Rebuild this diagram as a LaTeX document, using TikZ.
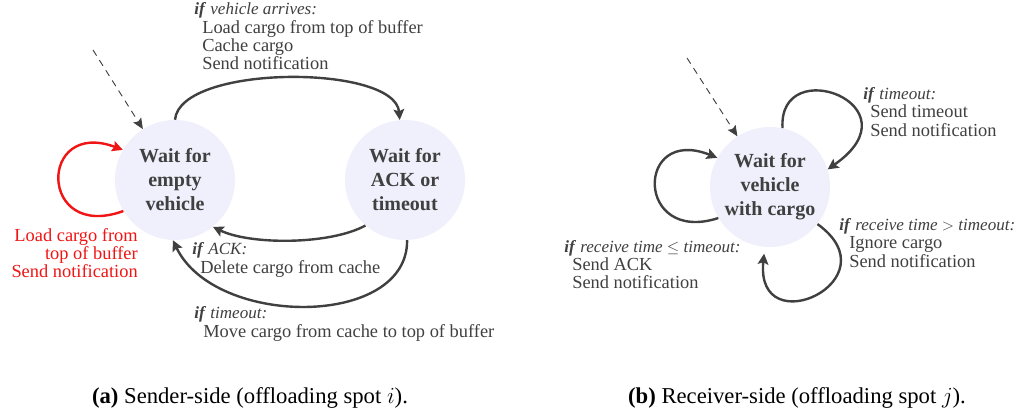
\documentclass[tikz,border=0pt]{standalone}
\usepackage{fontspec}
\setmainfont{Liberation Serif}
\usetikzlibrary{arrows.meta}
\definecolor{lav}{RGB}{240,240,252}
\definecolor{ink}{RGB}{64,64,64}
\definecolor{redc}{RGB}{240,20,20}
\newcommand{\condif}{\textbf{\textit{if}}}
\tikzset{
  state/.style={circle, fill=lav, draw=none, minimum size=90pt, inner sep=0pt,
    align=center, text=ink, font=\fontsize{15}{18}\selectfont\bfseries},
  edge/.style={draw=ink, line width=1.8pt, -{Stealth[length=8pt,width=8pt,inset=1.5pt]}},
  redge/.style={edge, draw=redc},
  init/.style={draw=ink, line width=0.7pt, dash pattern=on 5pt off 4pt,
    -{Stealth[length=8pt,width=7pt,inset=1.5pt]}},
  lbl/.style={anchor=base west, inner sep=0pt, text=ink, font=\fontsize{13.8}{16}\selectfont},
  cnd/.style={lbl, font=\fontsize{12.8}{16}\selectfont},
  rlbl/.style={anchor=base east, inner sep=0pt, text=redc, font=\fontsize{13.8}{16}\selectfont},
  captext/.style={anchor=base, inner sep=0pt, text=black, font=\fontsize{17}{20}\selectfont}
}
\begin{document}
\begin{tikzpicture}[x=0.75pt,y=-0.75pt]
\path[use as bounding box, fill=white] (0,0) rectangle (1027,417);

% ---------- (a) sender side ----------
\node[state] (A) at (175,180) {Wait for\\empty\\vehicle};
\node[state] (B) at (405,180) {Wait for\\ACK or\\timeout};
\coordinate (ia) at (93,50);
\draw[init] (ia) -- (A);

\draw[edge] (A.90) .. controls (180,64) and (395,64) .. (B.95);
\draw[redge] (A.211) .. controls (38,242) and (38,118) .. (A.150);
\draw[edge] (B.229) .. controls (330,245) and (250,245) .. (A.309);
\draw[edge] (B.272) .. controls (408,328) and (215,328) .. (A.268);

\node[cnd] (a1) at (194,15) {\condif\ \textit{vehicle arrives:}};
\node[lbl] (a2) at (202,34) {Load cargo from top of buffer};
\node[lbl] (a3) at (202,52) {Cache cargo};
\node[lbl] (a4) at (202,70) {Send notification};

\node[rlbl] (r1) at (138,241) {Load cargo from};
\node[rlbl] (r2) at (138,259) {top of buffer};
\node[rlbl] (r3) at (138,277) {Send notification};

\node[cnd] (k1) at (192,254) {\condif\ \textit{ACK:}};
\node[lbl] (k2) at (200,273) {Delete cargo from cache};

\node[cnd] (t1) at (194,318) {\condif\ \textit{timeout:}};
\node[lbl] (t2) at (203,337) {Move cargo from cache to top of buffer};

\node[captext] (capa) at (250,403) {\textbf{(a)} Sender-side (offloading spot $i$).};

% ---------- (b) receiver side ----------
\node[state] (C) at (770,187) {Wait for\\vehicle\\with cargo};
\coordinate (ib) at (687,58);
\draw[init] (ib) -- (C);

\draw[edge] (C.78) .. controls (778,52) and (920,105) .. (C.17);
\draw[edge] (C.211) .. controls (635,245) and (635,125) .. (C.151);
\draw[edge, shorten >=5pt] (C.322) .. controls (895,280) and (755,345) .. (C.265);

\node[cnd] (b1) at (863,100) {\condif\ \textit{timeout:}};
\node[lbl] (b2) at (870,118) {Send timeout};
\node[lbl] (b3) at (870,137) {Send notification};

\node[cnd] (g1) at (839,230) {\condif\ \textit{receive time $>$ timeout:}};
\node[lbl] (g2) at (849,248) {Ignore cargo};
\node[lbl] (g3) at (849,267) {Send notification};

\node[cnd] (l1) at (564,252) {\condif\ \textit{receive time $\leq$ timeout:}};
\node[lbl] (l2) at (572,270) {Send ACK};
\node[lbl] (l3) at (572,288) {Send notification};

\node[captext] (capb) at (797,403) {\textbf{(b)} Receiver-side (offloading spot $j$).};
\end{tikzpicture}
\end{document}
